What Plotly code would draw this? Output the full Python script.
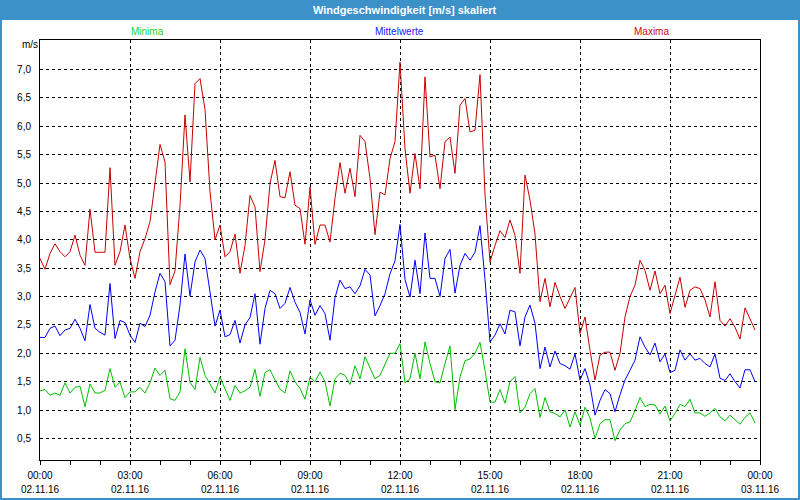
import pandas as pd
import plotly.graph_objects as go

# ---- data (10-minute values, 02.11.16 00:00 .. 23:50) ----
start_time = "2016-11-02 00:00"
n_points = 144

maxima = [
    3.67, 3.48, 3.76, 3.93, 3.79, 3.70, 3.79, 4.08, 3.73, 3.55,
    4.54, 3.78, 3.78, 3.78, 5.27, 3.55, 3.79, 4.26, 3.67, 3.32,
    3.79, 4.02, 4.32, 4.96, 5.68, 5.37, 3.21, 3.45, 4.60, 6.20,
    5.02, 6.75, 6.84, 6.30, 4.85, 4.00, 4.26, 3.70, 3.79, 4.10,
    3.41, 3.90, 4.78, 4.58, 3.44, 4.00, 4.99, 5.40, 4.76, 4.74,
    5.20, 4.61, 4.55, 3.92, 4.93, 3.92, 4.26, 4.26, 3.96, 4.73,
    5.36, 4.82, 5.26, 4.76, 5.84, 5.73, 5.08, 4.09, 4.84, 4.79,
    5.43, 5.73, 7.13, 5.60, 4.82, 5.52, 4.90, 6.87, 5.46, 5.49,
    4.90, 5.73, 5.81, 5.17, 6.37, 6.49, 5.90, 5.93, 6.91, 4.80,
    3.61, 3.90, 4.16, 4.04, 4.35, 4.08, 3.41, 5.14, 4.70, 4.10,
    2.91, 3.32, 2.82, 3.25, 3.00, 2.79, 2.98, 3.16, 2.35, 2.64,
    2.05, 1.53, 1.97, 2.02, 2.02, 1.70, 2.00, 2.64, 3.00, 3.20,
    3.64, 3.46, 3.11, 3.45, 3.05, 3.20, 2.70, 3.00, 3.34, 2.81,
    3.11, 3.17, 3.14, 2.94, 2.64, 3.26, 2.58, 2.48, 2.61, 2.46,
    2.25, 2.80, 2.61, 2.41,
]

mittelwerte = [
    2.28, 2.28, 2.44, 2.48, 2.31, 2.41, 2.44, 2.60, 2.44, 2.22,
    2.86, 2.44, 2.37, 2.32, 3.23, 2.26, 2.58, 2.54, 2.32, 2.19,
    2.53, 2.47, 2.67, 3.08, 3.41, 3.26, 2.13, 2.23, 2.85, 3.75,
    3.01, 3.61, 3.82, 3.67, 3.08, 2.48, 2.76, 2.29, 2.33, 2.58,
    2.18, 2.50, 2.63, 3.05, 2.16, 2.79, 3.11, 3.05, 2.79, 2.88,
    3.16, 2.90, 2.72, 2.34, 2.94, 2.67, 2.84, 2.70, 2.23, 2.98,
    3.29, 3.14, 3.17, 3.05, 3.19, 3.48, 3.38, 2.66, 2.84, 3.05,
    3.40, 3.63, 4.27, 3.30, 2.99, 3.64, 3.05, 4.12, 3.32, 3.32,
    3.00, 3.67, 3.83, 3.06, 3.55, 3.76, 3.64, 3.78, 4.25, 3.30,
    2.20, 2.32, 2.52, 2.34, 2.76, 2.73, 2.13, 2.64, 2.85, 2.53,
    1.73, 2.11, 1.76, 2.04, 1.82, 1.78, 1.72, 1.99, 1.53, 1.73,
    1.44, 0.91, 1.17, 1.36, 1.29, 0.97, 1.27, 1.53, 1.70, 1.88,
    2.29, 2.11, 1.97, 2.18, 1.85, 1.99, 1.66, 1.70, 2.06, 1.88,
    1.99, 1.88, 1.91, 1.82, 1.76, 1.99, 1.56, 1.52, 1.64, 1.50,
    1.39, 1.71, 1.71, 1.50,
]

minima = [
    1.34, 1.36, 1.26, 1.30, 1.26, 1.48, 1.30, 1.40, 1.42, 1.06,
    1.46, 1.30, 1.30, 1.35, 1.73, 1.40, 1.49, 1.22, 1.32, 1.32,
    1.40, 1.30, 1.48, 1.74, 1.61, 1.70, 1.20, 1.17, 1.32, 2.08,
    1.49, 1.36, 1.93, 1.61, 1.46, 1.30, 1.58, 1.38, 1.17, 1.43,
    1.30, 1.34, 1.40, 1.72, 1.24, 1.66, 1.71, 1.53, 1.37, 1.30,
    1.69, 1.50, 1.38, 1.19, 1.58, 1.50, 1.67, 1.50, 1.07, 1.55,
    1.65, 1.61, 1.45, 1.78, 1.55, 1.94, 1.73, 1.55, 1.61, 1.81,
    2.00, 2.00, 2.17, 1.48, 1.55, 2.00, 1.55, 2.20, 1.82, 1.50,
    1.48, 1.82, 2.13, 1.01, 1.58, 1.87, 1.90, 2.00, 2.19, 1.70,
    1.14, 1.14, 1.36, 1.12, 1.50, 1.59, 0.95, 1.05, 1.29, 1.38,
    0.87, 1.22, 0.97, 0.94, 0.88, 1.00, 0.70, 0.97, 0.73, 1.05,
    0.86, 0.50, 0.76, 0.83, 0.83, 0.46, 0.65, 0.76, 0.79, 0.99,
    1.22, 1.06, 1.10, 1.09, 0.93, 1.07, 0.81, 0.94, 1.10, 1.06,
    1.19, 0.95, 0.95, 0.89, 0.95, 1.03, 0.88, 0.81, 0.91, 0.83,
    0.75, 0.87, 0.95, 0.77,
]

tick_times = ["2016-11-02 00:00", "2016-11-02 03:00", "2016-11-02 06:00",
              "2016-11-02 09:00", "2016-11-02 12:00", "2016-11-02 15:00",
              "2016-11-02 18:00", "2016-11-02 21:00", "2016-11-03 00:00"]
time_labels = ["00:00", "03:00", "06:00", "09:00", "12:00", "15:00",
               "18:00", "21:00", "00:00"]
date_labels = ["02.11.16"] * 8 + ["03.11.16"]

y_ticks = [0.5, 1.0, 1.5, 2.0, 2.5, 3.0, 3.5, 4.0, 4.5, 5.0, 5.5, 6.0, 6.5, 7.0]
y_labels = ["0,5", "1,0", "1,5", "2,0", "2,5", "3,0", "3,5", "4,0", "4,5",
            "5,0", "5,5", "6,0", "6,5", "7,0"]

series_names = ["Minima", "Mittelwerte", "Maxima"]
series_colors = ["#00c000", "#0000ff", "#c80000"]
label_colors = ["#19d419", "#1a1aff", "#c01010"]

title_text = "Windgeschwindigkeit [m/s] skaliert"
unit_text = "m/s"

# ---- figure ----
times = pd.date_range(start_time, periods=n_points, freq="10min")
FONT = "Liberation Sans"

fig = go.Figure()
for name, vals, col in zip(series_names, [minima, mittelwerte, maxima], series_colors):
    fig.add_trace(go.Scatter(x=times, y=vals, mode="lines", name=name,
                             line=dict(color=col, width=1), hoverinfo="skip"))

fig.update_layout(
    width=800, height=500,
    margin=dict(l=40, r=40, t=40, b=40, pad=0),
    paper_bgcolor="white", plot_bgcolor="white",
    showlegend=False,
    font=dict(family=FONT, size=10, color="black"),
)

fig.update_xaxes(
    type="date",
    range=[tick_times[0], tick_times[-1]],
    tickvals=tick_times, ticktext=time_labels,
    ticks="outside", ticklen=4, tickcolor="black", tickwidth=1,
    minor=dict(dtick=3600000, ticks="outside", ticklen=4, tickcolor="black", showgrid=False),
    showgrid=True, gridcolor="black", gridwidth=1, griddash="3px,3px",
    showline=True, linecolor="black", linewidth=1, mirror=True,
    zeroline=False,
    tickfont=dict(family=FONT, size=10, color="black"),
    ticklabelstandoff=2,
)
fig.update_yaxes(
    range=[0.12, 7.52],
    tickvals=y_ticks, ticktext=y_labels,
    ticks="",
    showgrid=True, gridcolor="black", gridwidth=1, griddash="3px,3px",
    showline=True, linecolor="black", linewidth=1, mirror=True,
    zeroline=False,
    tickfont=dict(family=FONT, size=10, color="black"),
    ticklabelstandoff=6,
)

# title bar
fig.add_shape(type="rect", xref="paper", yref="paper",
              x0=-40 / 720, x1=760 / 720, y0=440 / 420, y1=460 / 420,
              fillcolor="#3c91c8", line=dict(width=0), layer="above")
fig.add_annotation(text="<b>" + title_text + "</b>", xref="paper", yref="paper",
                   x=(405 - 40) / 720, y=(460 - 10) / 420, showarrow=False,
                   font=dict(family=FONT, size=11, color="white"),
                   xanchor="center", yanchor="middle")
# window frame
fig.add_shape(type="rect", xref="paper", yref="paper",
              x0=-39 / 720, x1=759 / 720, y0=-39 / 420, y1=460 / 420,
              line=dict(color="#3c91c8", width=2), fillcolor="rgba(0,0,0,0)", layer="above")

# series labels
for name, col, px in zip(series_names, label_colors, [147, 399, 651]):
    fig.add_annotation(text=name, xref="paper", yref="paper",
                       x=(px - 40) / 720, y=(460 - 31) / 420, showarrow=False,
                       font=dict(family=FONT, size=10, color=col),
                       xanchor="center", yanchor="middle")

# unit label
fig.add_annotation(text=unit_text, xref="paper", yref="paper",
                   x=(30 - 40) / 720, y=(460 - 45) / 420, showarrow=False,
                   font=dict(family=FONT, size=10, color="black"),
                   xanchor="center", yanchor="middle")

# date line under time labels
for t, d in zip(tick_times, date_labels):
    fig.add_annotation(text=d, x=t, xref="x", yref="paper",
                       y=(460 - 489) / 420, showarrow=False,
                       font=dict(family=FONT, size=10, color="black"),
                       xanchor="center", yanchor="middle")

fig.write_html("out.html",
               config={"displayModeBar": False, "staticPlot": True},
               post_script="document.body.style.margin='0';document.body.style.overflow='hidden';")
